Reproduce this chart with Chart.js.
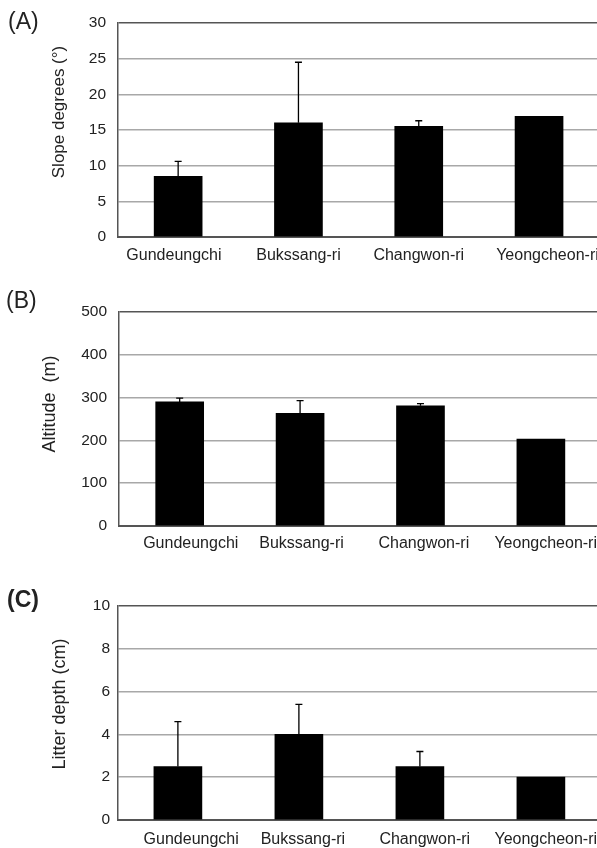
<!DOCTYPE html>
<html>
<head>
<meta charset="utf-8">
<script src="https://cdn.jsdelivr.net/npm/chart.js@4"></script>
<style>
  html, body { margin: 0; padding: 0; background: #fff; }
  #wrap { position: relative; width: 597px; height: 848px; overflow: hidden; }
  .panel { position: absolute; left: 0; }
</style>
</head>
<body>
<div id="wrap">
  <div class="panel" style="top:0px"><canvas id="cA" width="597" height="280"></canvas></div>
  <div class="panel" style="top:280px"><canvas id="cB" width="597" height="280"></canvas></div>
  <div class="panel" style="top:560px"><canvas id="cC" width="597" height="288"></canvas></div>
</div>
<script>
// ---------- data ----------
const categories = ['Gundeungchi', 'Bukssang-ri', 'Changwon-ri', 'Yeongcheon-ri'];

const slopeValues = [8.5, 16.0, 15.5, 16.9];
const slopeSD     = [2.1, 8.5, 0.8, 0];
const slopeTicks  = [0, 5, 10, 15, 20, 25, 30];

const altitudeValues = [290, 263, 281, 203];
const altitudeSD     = [9, 30, 5, 0];
const altitudeTicks  = [0, 100, 200, 300, 400, 500];

const litterValues = [2.5, 4.0, 2.5, 2.0];
const litterSD     = [2.1, 1.4, 0.7, 0];
const litterTicks  = [0, 2, 4, 6, 8, 10];

// ---------- helpers ----------
const FONT = "'Liberation Sans', Arial, Helvetica, sans-serif";
const TEXT = '#222';

const errorBars = {
  id: 'errorBars',
  afterDatasetsDraw(chart, args, opts) {
    const ctx = chart.ctx;
    const meta = chart.getDatasetMeta(0);
    const y = chart.scales.y;
    const vals = opts.values, sds = opts.sd;
    ctx.save();
    ctx.strokeStyle = '#000';
    ctx.lineWidth = 1.3;
    meta.data.forEach((bar, i) => {
      if (!sds[i]) return;
      const x = bar.x;
      const y0 = y.getPixelForValue(vals[i]);
      const y1 = y.getPixelForValue(vals[i] + sds[i]);
      ctx.beginPath();
      ctx.moveTo(x, y0);
      ctx.lineTo(x, y1);
      ctx.moveTo(x - 3.5, y1);
      ctx.lineTo(x + 3.5, y1);
      ctx.stroke();
    });
    ctx.restore();
  }
};

const panelText = {
  id: 'panelText',
  afterDraw(chart, args, o) {
    const ctx = chart.ctx;
    ctx.save();
    ctx.fillStyle = TEXT;
    ctx.font = o.letterFont;
    ctx.textAlign = 'left';
    ctx.textBaseline = 'alphabetic';
    ctx.fillText(o.letter, o.lx, o.ly);
    ctx.translate(o.tx, o.ty);
    ctx.rotate(-Math.PI / 2);
    ctx.font = o.titleFont;
    ctx.textAlign = 'center';
    ctx.textBaseline = 'middle';
    ctx.fillText(o.title, 0, 0);
    ctx.restore();
  }
};

function makeChart(id, cfg) {
  const maxV = cfg.ticks[cfg.ticks.length - 1];
  return new Chart(document.getElementById(id), {
    type: 'bar',
    data: {
      datasets: [{
        data: categories.map((c, i) => ({ x: i, y: cfg.values[i] })),
        backgroundColor: '#000',
        borderWidth: 0,
        barThickness: 48
      }]
    },
    plugins: [errorBars, panelText],
    options: {
      responsive: false,
      animation: false,
      events: [],
      layout: { padding: { top: cfg.padTop, left: 0, right: 0, bottom: 0 } },
      plugins: {
        legend: { display: false },
        tooltip: { enabled: false },
        errorBars: { values: cfg.values, sd: cfg.sd },
        panelText: cfg.text
      },
      scales: {
        x: {
          type: 'linear',
          offset: false,
          min: cfg.xMin,
          max: cfg.xMax,
          grid: { display: false, drawTicks: false, offset: false },
          border: { display: true, color: '#555', width: 2 },
          afterBuildTicks(scale) {
            scale.ticks = categories.map((c, i) => ({ value: i + cfg.labelShift[i] }));
          },
          afterFit(scale) {
            scale.height = cfg.xHeight;
            scale.paddingLeft = 0;
            scale.paddingRight = 0;
          },
          ticks: {
            autoSkip: false,
            maxRotation: 0,
            minRotation: 0,
            padding: cfg.xPad,
            color: TEXT,
            font: { family: FONT, size: 16 },
            callback(value, index) { return categories[index]; }
          }
        },
        y: {
          min: 0,
          max: maxV,
          afterBuildTicks(scale) {
            scale.ticks = cfg.ticks.map(v => ({ value: v }));
          },
          afterFit(scale) {
            scale.width = cfg.yWidth;
            scale.paddingTop = 0;
            scale.paddingBottom = 0;
          },
          grid: {
            drawTicks: false,
            lineWidth: 1.5,
            color(ctx) {
              const v = ctx.tick && ctx.tick.value;
              return (v === maxV || v === 0) ? '#555' : '#a8a8a8';
            }
          },
          border: { display: true, color: '#555', width: 1.5 },
          ticks: {
            padding: cfg.yPad,
            color: TEXT,
            font: { family: FONT, size: 15.5 }
          }
        }
      }
    }
  });
}

makeChart('cA', {
  values: slopeValues, sd: slopeSD, ticks: slopeTicks,
  padTop: 23, xHeight: 43, yWidth: 118, xPad: 9, yPad: 12,
  xMin: -0.5, xMax: -0.5 + (597 - 118) / 120.3,
  labelShift: [-0.035, 0, 0, 0.07],
  text: { letter: '(A)', letterFont: '23px ' + FONT, lx: 8, ly: 29,
          title: 'Slope degrees (°)', titleFont: '17px ' + FONT, tx: 59, ty: 112 }
});

makeChart('cB', {
  values: altitudeValues, sd: altitudeSD, ticks: altitudeTicks,
  padTop: 32, xHeight: 34, yWidth: 119, xPad: 8, yPad: 12,
  xMin: -0.504, xMax: -0.504 + (597 - 119) / 120.4,
  labelShift: [0.092, 0.012, 0.028, 0.04],
  text: { letter: '(B)', letterFont: '23px ' + FONT, lx: 6, ly: 28,
          title: 'Altitude  (m)', titleFont: '18px ' + FONT, tx: 50, ty: 124 }
});

makeChart('cC', {
  values: litterValues, sd: litterSD, ticks: litterTicks,
  padTop: 46, xHeight: 28, yWidth: 118, xPad: 10, yPad: 8,
  xMin: -0.495, xMax: -0.495 + (597 - 118) / 121,
  labelShift: [0.11, 0.033, 0.04, 0.04],
  text: { letter: '(C)', letterFont: 'bold 23px ' + FONT, lx: 7, ly: 47,
          title: 'Litter depth (cm)', titleFont: '18px ' + FONT, tx: 60, ty: 144 }
});
</script>
</body>
</html>
